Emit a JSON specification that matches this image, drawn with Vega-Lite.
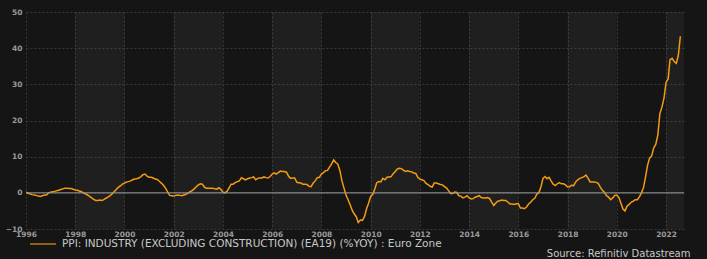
{
  "$schema": "https://vega.github.io/schema/vega-lite/v6.json",
  "width": 658,
  "height": 217,
  "autosize": {"type": "none"},
  "padding": {"left": 26, "top": 12, "right": 23, "bottom": 30},
  "background": "#151515",
  "config": {
    "view": {"stroke": null},
    "font": "DejaVu Sans",
    "axis": {"domain": false, "ticks": false, "labelColor": "#9a9a9a", "labelFont": "DejaVu Sans", "labelFontSize": 7.5, "labelFontWeight": "bold", "labelFlush": false, "labelOverlap": false, "grid": true, "gridColor": "#383838", "gridDash": [2, 2], "gridWidth": 1, "title": null},
    "axisX": {"labelPadding": 1},
    "axisY": {"labelPadding": 4}
  },
  "title": {"text": "Source: Refinitiv Datastream", "orient": "bottom", "anchor": "end", "color": "#c8c8c8", "fontSize": 10, "fontWeight": "normal", "font": "DejaVu Sans", "offset": -1, "dx": 6},
  "datasets": {
    "bands": [
      {"s": "1998-01-01", "e": "2000-01-01"},
      {"s": "2002-01-01", "e": "2004-01-01"},
      {"s": "2006-01-01", "e": "2008-01-01"},
      {"s": "2010-01-01", "e": "2012-01-01"},
      {"s": "2014-01-01", "e": "2016-01-01"},
      {"s": "2018-01-01", "e": "2020-01-01"},
      {"s": "2022-01-01", "e": "2022-09-24"}
    ],
    "zero": [{"y": 0}],
    "ppi": [
      {"d":"1996-01-01","v":0.2},{"d":"1996-02-01","v":-0.1},{"d":"1996-03-01","v":-0.3},{"d":"1996-04-01","v":-0.5},{"d":"1996-05-01","v":-0.6},{"d":"1996-06-01","v":-0.7},{"d":"1996-07-01","v":-0.9},{"d":"1996-08-01","v":-1.0},{"d":"1996-09-01","v":-0.8},{"d":"1996-10-01","v":-0.6},{"d":"1996-11-01","v":-0.6},{"d":"1996-12-01","v":0.0},
      {"d":"1997-01-01","v":0.2},{"d":"1997-02-01","v":0.3},{"d":"1997-03-01","v":0.4},{"d":"1997-04-01","v":0.6},{"d":"1997-05-01","v":0.7},{"d":"1997-06-01","v":0.9},{"d":"1997-07-01","v":1.1},{"d":"1997-08-01","v":1.3},{"d":"1997-09-01","v":1.3},{"d":"1997-10-01","v":1.2},{"d":"1997-11-01","v":1.2},{"d":"1997-12-01","v":1.0},
      {"d":"1998-01-01","v":0.8},{"d":"1998-02-01","v":0.7},{"d":"1998-03-01","v":0.5},{"d":"1998-04-01","v":0.3},{"d":"1998-05-01","v":0.0},{"d":"1998-06-01","v":-0.3},{"d":"1998-07-01","v":-0.6},{"d":"1998-08-01","v":-1.0},{"d":"1998-09-01","v":-1.4},{"d":"1998-10-01","v":-1.8},{"d":"1998-11-01","v":-2.1},{"d":"1998-12-01","v":-2.1},
      {"d":"1999-01-01","v":-2.0},{"d":"1999-02-01","v":-2.1},{"d":"1999-03-01","v":-1.9},{"d":"1999-04-01","v":-1.5},{"d":"1999-05-01","v":-1.2},{"d":"1999-06-01","v":-0.8},{"d":"1999-07-01","v":-0.3},{"d":"1999-08-01","v":0.3},{"d":"1999-09-01","v":0.9},{"d":"1999-10-01","v":1.5},{"d":"1999-11-01","v":1.9},{"d":"1999-12-01","v":2.4},
      {"d":"2000-01-01","v":2.7},{"d":"2000-02-01","v":3.0},{"d":"2000-03-01","v":3.1},{"d":"2000-04-01","v":3.3},{"d":"2000-05-01","v":3.6},{"d":"2000-06-01","v":3.8},{"d":"2000-07-01","v":3.9},{"d":"2000-08-01","v":4.1},{"d":"2000-09-01","v":4.5},{"d":"2000-10-01","v":5.0},{"d":"2000-11-01","v":5.2},{"d":"2000-12-01","v":4.6},
      {"d":"2001-01-01","v":4.3},{"d":"2001-02-01","v":4.3},{"d":"2001-03-01","v":4.1},{"d":"2001-04-01","v":3.8},{"d":"2001-05-01","v":3.7},{"d":"2001-06-01","v":3.2},{"d":"2001-07-01","v":2.7},{"d":"2001-08-01","v":2.1},{"d":"2001-09-01","v":1.3},{"d":"2001-10-01","v":0.3},{"d":"2001-11-01","v":-0.7},{"d":"2001-12-01","v":-0.8},
      {"d":"2002-01-01","v":-0.9},{"d":"2002-02-01","v":-0.7},{"d":"2002-03-01","v":-0.6},{"d":"2002-04-01","v":-0.7},{"d":"2002-05-01","v":-0.8},{"d":"2002-06-01","v":-0.6},{"d":"2002-07-01","v":-0.4},{"d":"2002-08-01","v":-0.1},{"d":"2002-09-01","v":0.3},{"d":"2002-10-01","v":0.6},{"d":"2002-11-01","v":1.1},{"d":"2002-12-01","v":1.7},
      {"d":"2003-01-01","v":2.2},{"d":"2003-02-01","v":2.5},{"d":"2003-03-01","v":2.4},{"d":"2003-04-01","v":1.6},{"d":"2003-05-01","v":1.3},{"d":"2003-06-01","v":1.3},{"d":"2003-07-01","v":1.3},{"d":"2003-08-01","v":1.3},{"d":"2003-09-01","v":1.1},{"d":"2003-10-01","v":1.0},{"d":"2003-11-01","v":1.4},{"d":"2003-12-01","v":1.0},
      {"d":"2004-01-01","v":0.2},{"d":"2004-02-01","v":0.0},{"d":"2004-03-01","v":0.4},{"d":"2004-04-01","v":1.4},{"d":"2004-05-01","v":2.4},{"d":"2004-06-01","v":2.4},{"d":"2004-07-01","v":2.8},{"d":"2004-08-01","v":3.1},{"d":"2004-09-01","v":3.3},{"d":"2004-10-01","v":4.2},{"d":"2004-11-01","v":3.9},{"d":"2004-12-01","v":3.6},
      {"d":"2005-01-01","v":3.9},{"d":"2005-02-01","v":4.1},{"d":"2005-03-01","v":4.2},{"d":"2005-04-01","v":4.4},{"d":"2005-05-01","v":3.6},{"d":"2005-06-01","v":4.0},{"d":"2005-07-01","v":4.1},{"d":"2005-08-01","v":4.1},{"d":"2005-09-01","v":4.4},{"d":"2005-10-01","v":4.2},{"d":"2005-11-01","v":4.1},{"d":"2005-12-01","v":4.5},
      {"d":"2006-01-01","v":5.2},{"d":"2006-02-01","v":5.5},{"d":"2006-03-01","v":5.2},{"d":"2006-04-01","v":5.6},{"d":"2006-05-01","v":6.0},{"d":"2006-06-01","v":5.9},{"d":"2006-07-01","v":5.9},{"d":"2006-08-01","v":5.7},{"d":"2006-09-01","v":4.6},{"d":"2006-10-01","v":4.0},{"d":"2006-11-01","v":4.1},{"d":"2006-12-01","v":4.1},
      {"d":"2007-01-01","v":2.9},{"d":"2007-02-01","v":2.8},{"d":"2007-03-01","v":2.7},{"d":"2007-04-01","v":2.4},{"d":"2007-05-01","v":2.4},{"d":"2007-06-01","v":2.3},{"d":"2007-07-01","v":1.8},{"d":"2007-08-01","v":1.7},{"d":"2007-09-01","v":2.7},{"d":"2007-10-01","v":3.3},{"d":"2007-11-01","v":4.2},{"d":"2007-12-01","v":4.3},
      {"d":"2008-01-01","v":5.2},{"d":"2008-02-01","v":5.6},{"d":"2008-03-01","v":6.1},{"d":"2008-04-01","v":6.2},{"d":"2008-05-01","v":7.1},{"d":"2008-06-01","v":8.0},{"d":"2008-07-01","v":9.1},{"d":"2008-08-01","v":8.4},{"d":"2008-09-01","v":7.9},{"d":"2008-10-01","v":6.2},{"d":"2008-11-01","v":3.3},{"d":"2008-12-01","v":1.3},
      {"d":"2009-01-01","v":-0.7},{"d":"2009-02-01","v":-2.0},{"d":"2009-03-01","v":-3.2},{"d":"2009-04-01","v":-4.8},{"d":"2009-05-01","v":-5.8},{"d":"2009-06-01","v":-6.6},{"d":"2009-07-01","v":-8.2},{"d":"2009-08-01","v":-7.5},{"d":"2009-09-01","v":-7.6},{"d":"2009-10-01","v":-6.6},{"d":"2009-11-01","v":-4.4},{"d":"2009-12-01","v":-2.9},
      {"d":"2010-01-01","v":-1.0},{"d":"2010-02-01","v":-0.4},{"d":"2010-03-01","v":0.9},{"d":"2010-04-01","v":2.8},{"d":"2010-05-01","v":3.1},{"d":"2010-06-01","v":3.0},{"d":"2010-07-01","v":4.0},{"d":"2010-08-01","v":3.6},{"d":"2010-09-01","v":4.3},{"d":"2010-10-01","v":4.4},{"d":"2010-11-01","v":4.5},{"d":"2010-12-01","v":5.3},
      {"d":"2011-01-01","v":5.9},{"d":"2011-02-01","v":6.6},{"d":"2011-03-01","v":6.8},{"d":"2011-04-01","v":6.7},{"d":"2011-05-01","v":6.3},{"d":"2011-06-01","v":5.9},{"d":"2011-07-01","v":6.1},{"d":"2011-08-01","v":5.9},{"d":"2011-09-01","v":5.8},{"d":"2011-10-01","v":5.5},{"d":"2011-11-01","v":5.4},{"d":"2011-12-01","v":4.3},
      {"d":"2012-01-01","v":3.8},{"d":"2012-02-01","v":3.6},{"d":"2012-03-01","v":3.4},{"d":"2012-04-01","v":2.6},{"d":"2012-05-01","v":2.3},{"d":"2012-06-01","v":1.8},{"d":"2012-07-01","v":1.6},{"d":"2012-08-01","v":2.7},{"d":"2012-09-01","v":2.7},{"d":"2012-10-01","v":2.5},{"d":"2012-11-01","v":2.3},{"d":"2012-12-01","v":2.2},
      {"d":"2013-01-01","v":1.7},{"d":"2013-02-01","v":1.3},{"d":"2013-03-01","v":0.6},{"d":"2013-04-01","v":-0.2},{"d":"2013-05-01","v":-0.2},{"d":"2013-06-01","v":0.2},{"d":"2013-07-01","v":0.1},{"d":"2013-08-01","v":-0.8},{"d":"2013-09-01","v":-0.9},{"d":"2013-10-01","v":-1.4},{"d":"2013-11-01","v":-1.2},{"d":"2013-12-01","v":-0.8},
      {"d":"2014-01-01","v":-1.4},{"d":"2014-02-01","v":-1.7},{"d":"2014-03-01","v":-1.6},{"d":"2014-04-01","v":-1.2},{"d":"2014-05-01","v":-1.0},{"d":"2014-06-01","v":-0.8},{"d":"2014-07-01","v":-1.3},{"d":"2014-08-01","v":-1.4},{"d":"2014-09-01","v":-1.4},{"d":"2014-10-01","v":-1.3},{"d":"2014-11-01","v":-1.6},{"d":"2014-12-01","v":-2.6},
      {"d":"2015-01-01","v":-3.5},{"d":"2015-02-01","v":-2.8},{"d":"2015-03-01","v":-2.3},{"d":"2015-04-01","v":-2.2},{"d":"2015-05-01","v":-2.0},{"d":"2015-06-01","v":-2.1},{"d":"2015-07-01","v":-2.1},{"d":"2015-08-01","v":-2.6},{"d":"2015-09-01","v":-3.1},{"d":"2015-10-01","v":-3.1},{"d":"2015-11-01","v":-3.2},{"d":"2015-12-01","v":-3.0},
      {"d":"2016-01-01","v":-3.0},{"d":"2016-02-01","v":-4.2},{"d":"2016-03-01","v":-4.2},{"d":"2016-04-01","v":-4.4},{"d":"2016-05-01","v":-3.9},{"d":"2016-06-01","v":-3.1},{"d":"2016-07-01","v":-2.6},{"d":"2016-08-01","v":-1.9},{"d":"2016-09-01","v":-1.5},{"d":"2016-10-01","v":-0.4},{"d":"2016-11-01","v":0.1},{"d":"2016-12-01","v":1.6},
      {"d":"2017-01-01","v":4.0},{"d":"2017-02-01","v":4.5},{"d":"2017-03-01","v":3.9},{"d":"2017-04-01","v":4.3},{"d":"2017-05-01","v":3.3},{"d":"2017-06-01","v":2.4},{"d":"2017-07-01","v":2.0},{"d":"2017-08-01","v":2.5},{"d":"2017-09-01","v":2.8},{"d":"2017-10-01","v":2.5},{"d":"2017-11-01","v":2.5},{"d":"2017-12-01","v":2.2},
      {"d":"2018-01-01","v":1.6},{"d":"2018-02-01","v":1.7},{"d":"2018-03-01","v":2.1},{"d":"2018-04-01","v":2.0},{"d":"2018-05-01","v":3.0},{"d":"2018-06-01","v":3.6},{"d":"2018-07-01","v":4.0},{"d":"2018-08-01","v":4.2},{"d":"2018-09-01","v":4.5},{"d":"2018-10-01","v":4.9},{"d":"2018-11-01","v":4.0},{"d":"2018-12-01","v":3.0},
      {"d":"2019-01-01","v":3.0},{"d":"2019-02-01","v":3.0},{"d":"2019-03-01","v":2.9},{"d":"2019-04-01","v":2.6},{"d":"2019-05-01","v":1.6},{"d":"2019-06-01","v":0.7},{"d":"2019-07-01","v":0.2},{"d":"2019-08-01","v":-0.8},{"d":"2019-09-01","v":-1.2},{"d":"2019-10-01","v":-1.9},{"d":"2019-11-01","v":-1.4},{"d":"2019-12-01","v":-0.7},
      {"d":"2020-01-01","v":-0.6},{"d":"2020-02-01","v":-1.3},{"d":"2020-03-01","v":-2.8},{"d":"2020-04-01","v":-4.5},{"d":"2020-05-01","v":-5.0},{"d":"2020-06-01","v":-3.7},{"d":"2020-07-01","v":-3.2},{"d":"2020-08-01","v":-2.6},{"d":"2020-09-01","v":-2.3},{"d":"2020-10-01","v":-1.9},{"d":"2020-11-01","v":-1.9},{"d":"2020-12-01","v":-1.1},
      {"d":"2021-01-01","v":0.0},{"d":"2021-02-01","v":1.5},{"d":"2021-03-01","v":4.3},{"d":"2021-04-01","v":7.6},{"d":"2021-05-01","v":9.6},{"d":"2021-06-01","v":10.2},{"d":"2021-07-01","v":12.4},{"d":"2021-08-01","v":13.4},{"d":"2021-09-01","v":16.0},{"d":"2021-10-01","v":21.9},{"d":"2021-11-01","v":23.7},{"d":"2021-12-01","v":26.2},
      {"d":"2022-01-01","v":30.6},{"d":"2022-02-01","v":31.5},{"d":"2022-03-01","v":36.8},{"d":"2022-04-01","v":37.2},{"d":"2022-05-01","v":36.3},{"d":"2022-06-01","v":35.8},{"d":"2022-07-01","v":37.9},{"d":"2022-08-01","v":43.3}
    ]
  },
  "layer": [
    {
      "data": {"name": "bands"},
      "mark": {"type": "rect", "fill": "#ffffff", "opacity": 0.045, "clip": true},
      "encoding": {
        "x": {"field": "s", "type": "temporal", "scale": {"type": "utc", "domain": [{"year": 1996, "month": 1, "date": 1, "utc": true}, {"year": 2022, "month": 9, "date": 24, "utc": true}]}, "axis": {"format": "%Y", "tickCount": {"interval": "year", "step": 2}}},
        "x2": {"field": "e"}
      }
    },
    {
      "data": {"name": "ppi"},
      "mark": {"type": "line", "stroke": "#f39c12", "strokeWidth": 1.5, "clip": true},
      "encoding": {
        "x": {
          "field": "d", "type": "temporal",
          "scale": {"type": "utc", "domain": [{"year": 1996, "month": 1, "date": 1, "utc": true}, {"year": 2022, "month": 9, "date": 24, "utc": true}]},
          "axis": {"format": "%Y", "tickCount": {"interval": "year", "step": 2}}
        },
        "y": {
          "field": "v", "type": "quantitative",
          "scale": {"domain": [-10, 50], "nice": false, "zero": false},
          "axis": {"values": [-10, 0, 10, 20, 30, 40, 50]}
        },
        "color": {
          "datum": "PPI: INDUSTRY (EXCLUDING CONSTRUCTION) (EA19) (%YOY) : Euro Zone",
          "scale": {"range": ["#f39c12"]},
          "legend": {"orient": "none", "legendX": 3, "legendY": 218, "title": null, "padding": 0, "symbolType": "stroke", "symbolSize": 676, "symbolStrokeWidth": 1.5, "symbolOpacity": 0.75, "labelColor": "#c8c8c8", "labelFont": "DejaVu Sans", "labelFontSize": 10.5, "labelOffset": 5, "labelLimit": 600}
        }
      }
    },
    {
      "data": {"name": "zero"},
      "mark": {"type": "rule", "stroke": "#9c9c9c", "strokeWidth": 1},
      "encoding": {"y": {"field": "y", "type": "quantitative", "axis": {"values": [-10, 0, 10, 20, 30, 40, 50]}}}
    }
  ]
}
